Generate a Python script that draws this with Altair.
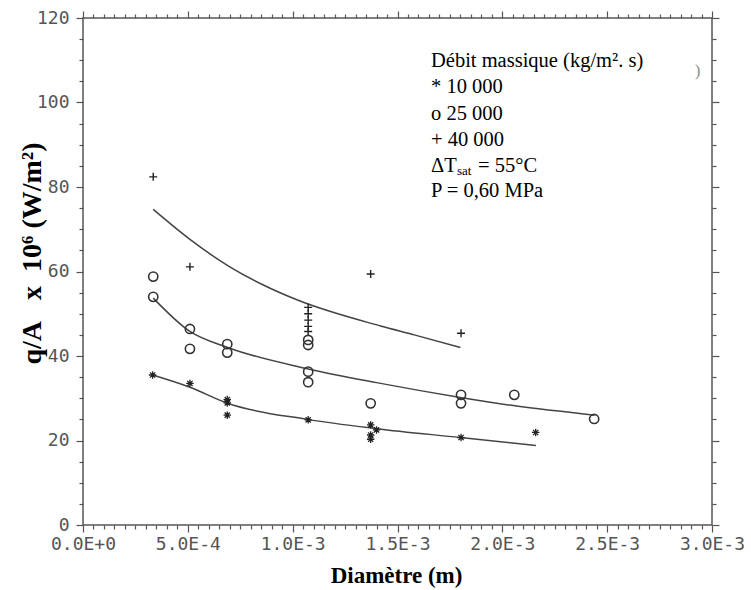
import altair as alt
import pandas as pd

# ---------------- data ----------------
# diameters in metres, heat flux q/A in units of 1e6 W/m2
plus_d = [3.35e-4, 5.10e-4, 1.074e-3, 1.074e-3, 1.074e-3, 1.074e-3, 1.074e-3, 1.372e-3, 1.803e-3]
plus_q = [82.4, 61.1, 51.5, 50.0, 48.5, 47.0, 45.8, 59.4, 45.4]

circ_d = [3.35e-4, 3.35e-4, 5.10e-4, 5.10e-4, 6.88e-4, 6.88e-4, 1.074e-3, 1.074e-3,
          1.074e-3, 1.074e-3, 1.372e-3, 1.803e-3, 1.803e-3, 2.057e-3, 2.438e-3]
circ_q = [58.8, 54.0, 46.4, 41.7, 42.8, 40.8, 43.8, 42.6, 36.3, 33.8, 28.8, 30.8, 28.8, 30.8, 25.1]

star_d = [3.32e-4, 5.10e-4, 6.88e-4, 6.88e-4, 6.88e-4, 1.074e-3, 1.372e-3, 1.372e-3,
          1.372e-3, 1.40e-3, 1.803e-3, 2.159e-3]
star_q = [35.5, 33.5, 29.7, 28.9, 26.0, 24.9, 23.7, 21.3, 20.3, 22.5, 20.7, 21.9]

# fitted curves
plus_curve_d = [3.35e-4, 5.1e-4, 7.0e-4, 8.6e-4, 1.02e-3, 1.42e-3, 1.58e-3, 1.80e-3]
plus_curve_q = [74.7, 67.6, 61.1, 56.8, 53.3, 47.1, 45.0, 42.0]

circ_curve_d = [3.35e-4, 5.1e-4, 6.9e-4, 1.07e-3, 1.40e-3, 1.80e-3, 2.06e-3, 2.44e-3]
circ_curve_q = [53.7, 45.8, 42.0, 37.0, 33.7, 30.2, 28.2, 26.0]

star_curve_d = [3.32e-4, 5.1e-4, 6.9e-4, 1.07e-3, 1.40e-3, 1.80e-3, 2.16e-3]
star_curve_q = [35.5, 32.6, 28.8, 25.0, 22.8, 20.7, 18.8]

x_tick_values = [0.0, 5e-4, 1e-3, 1.5e-3, 2e-3, 2.5e-3, 3e-3]
x_tick_labels = ["0.0E+0", "5.0E-4", "1.0E-3", "1.5E-3", "2.0E-3", "2.5E-3", "3.0E-3"]
y_tick_values = [0, 20, 40, 60, 80, 100, 120]

x_minor = [round(i * 5e-5, 6) for i in range(61)]
y_minor = [i * 5 for i in range(25)]

legend_lines = ["Débit massique (kg/m². s)", "* 10 000", "o  25 000", "+  40 000"]
p_line = "P = 0,60 MPa"
NB = "\u00a0"
y_title = f"q/A{NB*3}x{NB*2}10⁶{NB}(W/m²)"

# ---------------- chart ----------------
W, H = 629, 507
XMAX, YMAX = 0.003, 120
GRAY = "#555555"
TICKC = "#555555"
MAJ, MIN = 7, 4

label_expr = ""
for v, lab in zip(x_tick_values, x_tick_labels):
    label_expr += f"abs(datum.value - {v}) < 1e-6 ? '{lab}' : "
label_expr += "''"
y_label_expr = "datum.value % 20 == 0 ? datum.label : ''"

x_major_test = "abs(datum.value / 0.0005 - round(datum.value / 0.0005)) < 1e-4"
y_major_test = "datum.value % 20 == 0"

def tsize(test):
    return alt.ConditionalAxisNumber(condition={"test": test, "value": MAJ}, value=MIN)

xs = alt.Scale(domain=[0, XMAX], nice=False, zero=False)
ys = alt.Scale(domain=[0, YMAX], nice=False, zero=False)

# main axes: all ticks (major longer), labels only on majors, titles
xaxis_main = alt.Axis(values=x_minor, labelExpr=label_expr, domain=False, grid=False,
                      ticks=True, tickSize=tsize(x_major_test), tickColor=TICKC, tickWidth=1.2,
                      labelFont="DejaVu Sans Mono", labelFontSize=18, labelColor=GRAY, labelPadding=3,
                      labelOverlap=False, labelFlush=False,
                      title="Diamètre (m)", titleFont="Liberation Serif", titleFontWeight="bold",
                      titleFontSize=23, titleColor="black", titleX=313, titleY=50,
                      titleAlign="center", titleBaseline="middle")
yaxis_main = alt.Axis(values=y_minor, labelExpr=y_label_expr, domain=False, grid=False,
                      ticks=True, tickSize=tsize(y_major_test), tickColor=TICKC, tickWidth=1.2,
                      labelFont="DejaVu Sans Mono", labelFontSize=18, labelColor=GRAY, labelPadding=7,
                      labelOverlap=False, labelFlush=False,
                      title=y_title, titleFont="Liberation Serif", titleFontWeight="bold",
                      titleFontSize=28, titleColor="black", titleX=-51, titleY=235, titleAngle=270,
                      titleAlign="center", titleBaseline="middle")
xaxis_top = alt.Axis(values=x_minor, orient="top", domain=False, grid=False, labels=False,
                     ticks=True, tickSize=tsize(x_major_test), tickColor=TICKC, tickWidth=1.2, title="")
yaxis_right = alt.Axis(values=y_minor, orient="right", domain=False, grid=False, labels=False,
                       ticks=True, tickSize=tsize(y_major_test), tickColor=TICKC, tickWidth=1.2, title="")

X = alt.X("d:Q", scale=xs, axis=None)
Y = alt.Y("q:Q", scale=ys, axis=None)

layers = []

# axis-carrier layers (invisible marks): bottom/left and top/right
carrier = pd.DataFrame({"d": circ_curve_d, "q": circ_curve_q})
for ax_x, ax_y in [(xaxis_main, yaxis_main), (xaxis_top, yaxis_right)]:
    layers.append(alt.Chart(carrier).mark_point(opacity=0)
                  .encode(x=alt.X("d:Q", scale=xs, axis=ax_x), y=alt.Y("q:Q", scale=ys, axis=ax_y)))

# curves
for cd, cq in [(plus_curve_d, plus_curve_q), (circ_curve_d, circ_curve_q), (star_curve_d, star_curve_q)]:
    df = pd.DataFrame({"d": cd, "q": cq})
    layers.append(alt.Chart(df).mark_line(interpolate="monotone", color="#444444", strokeWidth=1.5)
                  .encode(x=X, y=Y))

# points
PLUS = "M-1,0L1,0M0,-1L0,1"
STAR = "M-1,0L1,0M0,-1L0,1M-0.7,-0.7L0.7,0.7M-0.7,0.7L0.7,-0.7"
layers.append(alt.Chart(pd.DataFrame({"d": plus_d, "q": plus_q}))
              .mark_point(shape=PLUS, size=64, filled=False, color="#222222", strokeWidth=1.4, opacity=1)
              .encode(x=X, y=Y))
layers.append(alt.Chart(pd.DataFrame({"d": circ_d, "q": circ_q}))
              .mark_point(shape="circle", size=85, filled=False, color="#333333", strokeWidth=1.6, opacity=1)
              .encode(x=X, y=Y))
layers.append(alt.Chart(pd.DataFrame({"d": star_d, "q": star_q}))
              .mark_point(shape=STAR, size=56, filled=False, color="#222222", strokeWidth=1.3, opacity=1)
              .encode(x=X, y=Y))

# annotation text
def txt(s, x, y, size=20.5, color="black"):
    return (alt.Chart(pd.DataFrame({"t": [s]}))
            .mark_text(align="left", baseline="alphabetic", font="Liberation Serif",
                       fontSize=size, color=color)
            .encode(x=alt.value(x), y=alt.value(y), text="t:N"))

base_y = [48.7, 75.3, 102, 128]
for s, yy in zip(legend_lines, base_y):
    layers.append(txt(s, 348, yy))
layers.append(txt("ΔT", 348, 153.7))
layers.append(txt("sat", 374, 157, size=13))
layers.append(txt("= 55°C", 395, 153.7))
layers.append(txt(p_line, 348, 178.7))
layers.append(txt(")", 612, 58, size=16, color="#888888"))

chart = (alt.layer(*layers)
         .resolve_axis(x="independent", y="independent")
         .properties(width=W, height=H, autosize=alt.AutoSizeParams(type="none"),
                     padding={"left": 83, "top": 18, "right": 39, "bottom": 65})
         .configure_view(stroke=GRAY, strokeWidth=1.5))

chart.save("out.html", embed_options={"renderer": "svg", "actions": False})
